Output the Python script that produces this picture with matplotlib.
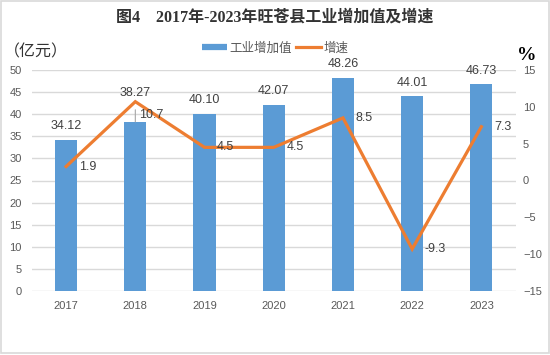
import matplotlib
matplotlib.use("Agg")
import matplotlib.pyplot as plt
from matplotlib.lines import Line2D
from matplotlib.patches import Rectangle

plt.rcParams['font.family'] = ['Liberation Sans', 'Noto Sans CJK SC', 'DejaVu Sans']

years = ['2017', '2018', '2019', '2020', '2021', '2022', '2023']
value_added = [34.12, 38.27, 40.10, 42.07, 48.26, 44.01, 46.73]   # 亿元
growth = [1.9, 10.7, 4.5, 4.5, 8.5, -9.3, 7.3]                    # %
left_ticks = [0, 5, 10, 15, 20, 25, 30, 35, 40, 45, 50]
right_ticks = [-15, -10, -5, 0, 5, 10, 15]

blue = '#5B9BD5'
orange = '#ED7D31'
txt = '#404040'
tick_c = '#595959'
grid_c = '#d9d9d9'

fig = plt.figure(figsize=(5.5, 3.55), dpi=100)
fig.patches.append(Rectangle((0.002, 0.006), 0.996, 0.99, transform=fig.transFigure,
                             fill=False, edgecolor=grid_c, lw=1.2))

ax = fig.add_axes([31.5 / 550, 1 - 291 / 355, (516 - 31.5) / 550, (291 - 70) / 355])
x = list(range(len(years)))
ax.bar(x, value_added, width=0.32, color=blue, zorder=2)
ax.set_xlim(-0.5, len(years) - 0.5)
ax.set_ylim(0, 50)
ax.set_yticks(left_ticks)
ax.set_xticks(x)
ax.set_xticklabels(years)
ax.grid(axis='y', color=grid_c, lw=1, zorder=0)
for s in ax.spines.values():
    s.set_visible(False)
ax.tick_params(axis='both', length=0, colors=tick_c, labelsize=8)
ax.tick_params(axis='y', pad=7)
ax.tick_params(axis='x', pad=7)

# bar value labels
for i, v in enumerate(value_added):
    if i == 1:
        ax.annotate(f'{v:.2f}', xy=(i, v), xytext=(0, 21), textcoords='offset points',
                    ha='center', va='center', fontsize=9, color=txt,
                    arrowprops=dict(arrowstyle='-', color='#a6a6a6', lw=0.8,
                                    shrinkA=6, shrinkB=0))
    else:
        ax.annotate(f'{v:.2f}', xy=(i, v), xytext=(0, 10), textcoords='offset points',
                    ha='center', va='center', fontsize=9, color=txt)

ax2 = ax.twinx()
ax2.plot(x, growth, color=orange, lw=2.3, solid_joinstyle='miter')
ax2.set_ylim(-15, 15)
ax2.set_yticks(right_ticks)
for s in ax2.spines.values():
    s.set_visible(False)
ax2.tick_params(axis='y', length=0, colors=tick_c, labelsize=8, pad=5)

for i, g in enumerate(growth):
    off = (3, -9.5) if i == 1 else (9, 0)
    ax2.annotate(f'{g}', xy=(i, g), xytext=off, textcoords='offset points',
                 ha='left', va='center', fontsize=9, color=txt)

fig.text(0.5, 1 - 18 / 355, '图4\u30002017年-2023年旺苍县工业增加值及增速',
         ha='center', va='center', fontsize=11.5, fontweight='bold', color='#333333',
         family=['Liberation Serif', 'Noto Sans CJK SC'])
fig.text(4 / 550, 1 - 52 / 355, '（亿元）', ha='left', va='center', fontsize=11.5,
         color='#333333', family=['Noto Sans CJK SC', 'DejaVu Sans'])
fig.text(527 / 550, 1 - 56 / 355, '%', ha='center', va='center', fontsize=14,
         fontweight='bold', color='black', family='Liberation Serif')

handles = [Line2D([], [], color=blue, lw=4.5, solid_capstyle='butt'),
           Line2D([], [], color=orange, lw=2.3)]
fig.legend(handles, ['工业增加值', '增速'], loc='center', bbox_to_anchor=(0.5, 1 - 48 / 355),
           ncol=2, frameon=False, handlelength=2.0, handletextpad=0.2,
           columnspacing=0.3, labelcolor=tick_c,
           prop={'family': ['Noto Sans CJK SC', 'DejaVu Sans'], 'size': 9})

fig.savefig('out.png', dpi=100)
